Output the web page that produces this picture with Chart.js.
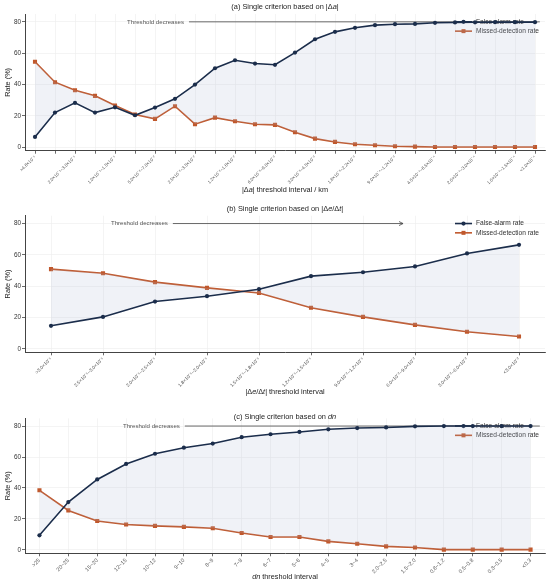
<!DOCTYPE html>
<html>
<head>
<meta charset="utf-8">
<script src="https://cdn.jsdelivr.net/npm/chart.js@4.4.1/dist/chart.umd.min.js"></script>
<style>
  html, body { margin: 0; padding: 0; background: #fff; }
  #wrap { position: relative; width: 550px; height: 585px; }
  canvas { position: absolute; left: 0; }
</style>
</head>
<body>
<div id="wrap">
  <canvas id="chartA" width="550" height="197" style="top:0px"></canvas>
  <canvas id="chartB" width="550" height="200" style="top:197px"></canvas>
  <canvas id="chartC" width="550" height="188" style="top:397px"></canvas>
</div>
<script>
// (a) |Δa| threshold intervals
var aLabels = [
  ">4.6×10⁻¹", "3.0×10⁻¹~4.6×10⁻¹", "2.0×10⁻¹~3.0×10⁻¹", "1.5×10⁻¹~2.0×10⁻¹",
  "1.0×10⁻¹~1.5×10⁻¹", "7.0×10⁻²~1.0×10⁻¹", "5.0×10⁻²~7.0×10⁻²", "3.5×10⁻²~5.0×10⁻²",
  "2.5×10⁻²~3.5×10⁻²", "1.8×10⁻²~2.5×10⁻²", "1.2×10⁻²~1.8×10⁻²", "9.0×10⁻³~1.2×10⁻²",
  "6.0×10⁻³~9.0×10⁻³", "4.5×10⁻³~6.0×10⁻³", "3.0×10⁻³~4.5×10⁻³", "2.2×10⁻³~3.0×10⁻³",
  "1.6×10⁻³~2.2×10⁻³", "1.2×10⁻³~1.6×10⁻³", "9.0×10⁻⁴~1.2×10⁻³", "6.5×10⁻⁴~9.0×10⁻⁴",
  "4.5×10⁻⁴~6.5×10⁻⁴", "3.0×10⁻⁴~4.5×10⁻⁴", "2.0×10⁻⁴~3.0×10⁻⁴", "1.5×10⁻⁴~2.0×10⁻⁴",
  "1.0×10⁻⁴~1.5×10⁻⁴", "<1.0×10⁻⁴"
];
var aFalseAlarm = [6.6, 22.1, 28.3, 22.1, 25.5, 20.4, 25.3, 30.9, 40.0, 50.4, 55.5, 53.4, 52.6,
  60.4, 68.9, 73.6, 76.2, 77.9, 78.5, 78.7, 79.4, 79.6, 79.7, 79.8, 79.8, 79.8];
var aMissed = [54.5, 41.5, 36.4, 32.8, 26.6, 20.9, 18.1, 26.2, 14.7, 18.9, 16.6, 14.7, 14.3,
  9.6, 5.5, 3.4, 1.9, 1.3, 0.6, 0.4, 0.2, 0.2, 0.2, 0.2, 0.2, 0.2];

// (b) |Δe/Δt| threshold intervals
var bLabels = [
  ">3.0×10⁻¹", "2.5×10⁻¹~3.0×10⁻¹", "2.0×10⁻¹~2.5×10⁻¹", "1.8×10⁻¹~2.0×10⁻¹",
  "1.5×10⁻¹~1.8×10⁻¹", "1.2×10⁻¹~1.5×10⁻¹", "9.0×10⁻²~1.2×10⁻¹", "6.0×10⁻²~9.0×10⁻²",
  "3.0×10⁻²~6.0×10⁻²", "<3.0×10⁻²"
];
var bFalseAlarm = [14.7, 20.4, 30.2, 33.6, 38.1, 46.4, 48.9, 52.6, 60.9, 66.4];
var bMissed = [50.9, 48.3, 42.6, 38.9, 35.7, 26.2, 20.4, 15.3, 10.9, 7.9];

// (c) dn threshold intervals
var cLabels = [">25", "20~25", "15~20", "12~15", "10~12", "9~10", "8~9", "7~8", "6~7",
  "5~6", "4~5", "3~4", "2.0~2.5", "1.5~2.0", "0.8~1.2", "0.5~0.8", "0.3~0.5", "<0.3"];
var cFalseAlarm = [9.4, 30.9, 45.5, 55.5, 62.1, 66.0, 68.7, 72.8, 74.7,
  76.2, 77.9, 78.7, 79.1, 79.8, 80.0, 80.0, 80.0, 80.0];
var cMissed = [38.5, 25.5, 18.7, 16.4, 15.5, 14.9, 14.0, 10.9, 8.3,
  8.3, 5.5, 4.0, 2.3, 1.5, 0.2, 0.2, 0.2, 0.2];

var yTicks = [0, 20, 40, 60, 80];
var seriesNames = ["False-alarm rate", "Missed-detection rate"];

var FONT = "'Liberation Sans', Arial, Helvetica, sans-serif";
var NAVY = "#1b2d4b";
var ORANGE = "#c0582c";

function drawRich(ctx, parts, cx, cy, size, color) {
  var widths = parts.map(function (p) {
    ctx.font = (p[1] ? "italic " : "") + size + "px " + FONT;
    return ctx.measureText(p[0]).width;
  });
  var x = cx - widths.reduce(function (a, b) { return a + b; }, 0) / 2;
  ctx.fillStyle = color;
  ctx.textAlign = "left";
  ctx.textBaseline = "middle";
  parts.forEach(function (p, i) {
    ctx.font = (p[1] ? "italic " : "") + size + "px " + FONT;
    ctx.fillText(p[0], x, cy);
    x += widths[i];
  });
}

function drawMarker(ctx, style, x, y, color) {
  ctx.fillStyle = color;
  ctx.beginPath();
  if (style === "rect") ctx.rect(x - 2, y - 2, 4, 4);
  else ctx.arc(x, y, 2.1, 0, Math.PI * 2);
  ctx.fill();
}

var decor = {
  id: "decor",
  beforeDatasetsDraw: function (chart, args, o) {
    var ctx = chart.ctx, area = chart.chartArea;
    var yy = chart.scales.y.getPixelForValue(80);
    ctx.save();
    // threshold annotation
    ctx.font = "6.1px " + FONT;
    ctx.fillStyle = "#555";
    ctx.textAlign = "center";
    ctx.textBaseline = "middle";
    var tx = area.left + o.textAt * area.width;
    ctx.fillText("Threshold decreases", tx, yy);
    var tw = ctx.measureText("Threshold decreases").width;
    var x0 = tx + tw / 2 + 5, x1 = area.left + o.arrowTo * area.width;
    ctx.strokeStyle = "#444";
    ctx.lineWidth = 0.8;
    ctx.beginPath();
    ctx.moveTo(x0, yy);
    ctx.lineTo(x1, yy);
    if (o.arrowHead) {
      ctx.moveTo(x1 - 4, yy - 2);
      ctx.lineTo(x1, yy);
      ctx.lineTo(x1 - 4, yy + 2);
    }
    ctx.stroke();
    // legend
    var lx = area.right - 90;
    chart.data.datasets.forEach(function (ds, i) {
      var ly = yy + i * 9.3;
      ctx.strokeStyle = ds.borderColor;
      ctx.lineWidth = 1.6;
      ctx.beginPath();
      ctx.moveTo(lx, ly);
      ctx.lineTo(lx + 17, ly);
      ctx.stroke();
      drawMarker(ctx, ds.pointStyle, lx + 8.5, ly, ds.borderColor);
      ctx.font = "6.6px " + FONT;
      ctx.fillStyle = "#333";
      ctx.textAlign = "left";
      ctx.fillText(ds.label, lx + 21, ly);
    });
    ctx.restore();
  },
  afterDraw: function (chart, args, o) {
    var ctx = chart.ctx, area = chart.chartArea;
    var cx = (area.left + area.right) / 2;
    ctx.save();
    drawRich(ctx, o.title, cx, o.titleY, 7.4, "#222");
    drawRich(ctx, o.xTitle, cx, o.xTitleY, 7.3, "#222");
    ctx.restore();
  }
};

function makeChart(id, labels, fa, md, o) {
  return new Chart(document.getElementById(id), {
    type: "line",
    data: {
      labels: labels,
      datasets: [
        {
          label: seriesNames[0], data: fa, borderColor: NAVY, backgroundColor: NAVY,
          pointStyle: "circle", pointRadius: 2.1, pointBackgroundColor: NAVY, pointBorderWidth: 0,
          borderWidth: 1.6, tension: 0,
          fill: { target: "+1", above: "rgba(170,185,210,0.18)", below: "rgba(170,185,210,0.18)" }
        },
        {
          label: seriesNames[1], data: md, borderColor: ORANGE, backgroundColor: ORANGE,
          pointStyle: "rect", pointRadius: 2.9, pointBackgroundColor: ORANGE, pointBorderWidth: 0,
          borderWidth: 1.6, tension: 0, fill: false
        }
      ]
    },
    options: {
      responsive: false,
      animation: false,
      events: [],
      layout: { padding: { top: o.top, right: 5, left: 0, bottom: 0 } },
      plugins: {
        legend: { display: false },
        tooltip: { enabled: false },
        decor: o
      },
      scales: {
        x: {
          offset: true,
          afterFit: function (s) { s.height = o.xHeight; },
          grid: { color: "#ececec", lineWidth: 0.6, tickColor: "#444", tickWidth: 0.8, tickLength: 3 },
          border: { color: "#444", width: 1 },
          ticks: {
            autoSkip: false, minRotation: 45, maxRotation: 45, padding: 1,
            color: "#555", font: { family: FONT, size: o.xFont },
            callback: function (v, i) {
              if (o.everyOther && i % 2 === 1 && i !== labels.length - 1) return "";
              return this.getLabelForValue(v);
            }
          }
        },
        y: {
          min: -2.2, max: 85,
          afterFit: function (s) { s.width = 25; },
          afterBuildTicks: function (s) { s.ticks = yTicks.map(function (v) { return { value: v }; }); },
          grid: { color: "#ececec", lineWidth: 0.6, tickColor: "#444", tickWidth: 0.8, tickLength: 3 },
          border: { color: "#444", width: 1 },
          ticks: { padding: 1, color: "#333", font: { family: FONT, size: 6.4 } },
          title: { display: true, text: "Rate (%)", color: "#222", padding: 3.5, font: { family: FONT, size: 7.3 } }
        }
      }
    },
    plugins: [decor]
  });
}

makeChart("chartA", aLabels, aFalseAlarm, aMissed, {
  top: 14, xHeight: 46.3, xFont: 4.5, everyOther: true,
  textAt: 0.251, arrowTo: 0.99, arrowHead: false,
  title: [["(a) Single criterion based on |Δ", false], ["a", true], ["|", false]], titleY: 7.3,
  xTitle: [["|Δ", false], ["a", true], ["| threshold interval / km", false]], xTitleY: 190
});

makeChart("chartB", bLabels, bFalseAlarm, bMissed, {
  top: 18.7, xHeight: 44.7, xFont: 4.8, everyOther: false,
  textAt: 0.22, arrowTo: 0.727, arrowHead: true,
  title: [["(b) Single criterion based on |Δ", false], ["e", true], ["/Δ", false], ["t", true], ["|", false]], titleY: 12.3,
  xTitle: [["|Δ", false], ["e", true], ["/Δ", false], ["t", true], ["| threshold interval", false]], xTitleY: 195
});

makeChart("chartC", cLabels, cFalseAlarm, cMissed, {
  top: 21.3, xHeight: 31.7, xFont: 5.5, everyOther: false,
  textAt: 0.243, arrowTo: 0.99, arrowHead: false,
  title: [["(c) Single criterion based on ", false], ["dn", true]], titleY: 20.3,
  xTitle: [["dn", true], [" threshold interval", false]], xTitleY: 179.7
});
</script>
</body>
</html>
